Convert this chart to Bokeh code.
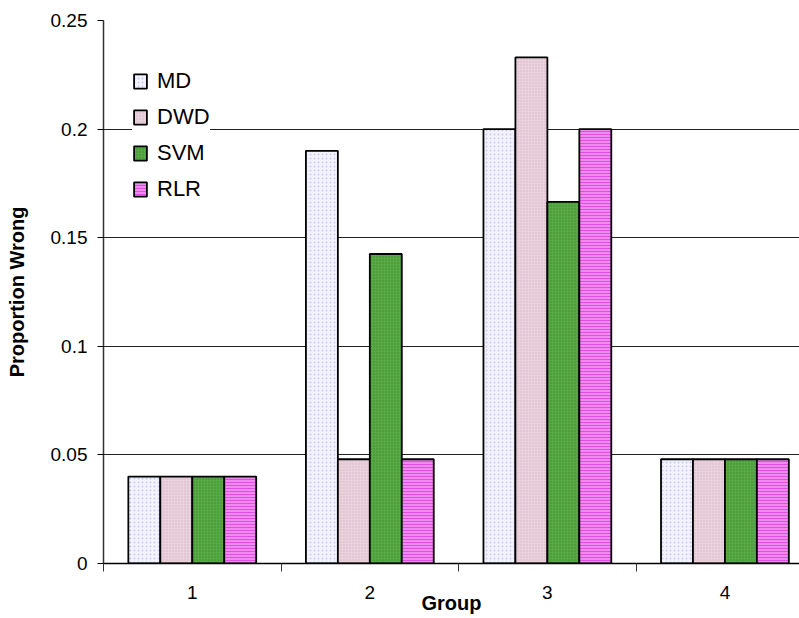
import numpy as np
from bokeh.plotting import figure
from bokeh.models import FixedTicker, ColumnDataSource, Legend, LegendItem
from bokeh.embed import file_html
from bokeh.resources import INLINE

groups = [1, 2, 3, 4]
group_labels = ["1", "2", "3", "4"]
methods = ["MD", "DWD", "SVM", "RLR"]
md = [0.04, 0.19, 0.2, 0.048]
dwd = [0.04, 0.048, 0.233, 0.048]
svm = [0.04, 0.1425, 0.1665, 0.048]
rlr = [0.04, 0.048, 0.2, 0.048]
y_ticks = [0, 0.05, 0.1, 0.15, 0.2, 0.25]

styles = {
    "MD": dict(fill_color="#F3F3FF", hatch_pattern="dot", hatch_color="#C8C8F0", hatch_scale=4),
    "DWD": dict(fill_color="#EAD2DC", hatch_pattern="dot", hatch_color="#D8B4C4", hatch_scale=3),
    "SVM": dict(fill_color="#57AA44", hatch_pattern="dot", hatch_color="#3E8A30", hatch_scale=3),
    "RLR": dict(fill_color="#F08AF0", hatch_pattern="horizontal_line", hatch_color="#E050E0", hatch_scale=3),
}

FONT = "Liberation Sans"

# right side of the plot area runs off the edge, like the original
p = figure(width=799, height=618, x_range=(0.5, 4.42), y_range=(0, 0.25),
           output_backend="svg", toolbar_location=None,
           min_border_left=103, min_border_top=20, min_border_right=0, min_border_bottom=55)
p.outline_line_color = None

bw = 0.18
series = [md, dwd, svm, rlr]
items = []
for i, (name, vals) in enumerate(zip(methods, series)):
    xs = np.array(groups) + (i - 1.5) * bw
    src = ColumnDataSource(dict(x=xs, top=vals))
    r = p.vbar(x="x", top="top", width=bw, source=src, line_color="black", line_width=1.8,
               **styles[name])
    items.append(LegendItem(label=name, renderers=[r]))

legend = Legend(items=items, location=(29, 361), border_line_color=None,
                background_fill_color="white", background_fill_alpha=1.0,
                label_text_font=FONT, label_text_font_size="22px", label_text_color="black",
                glyph_width=16, glyph_height=18, label_height=18, spacing=10,
                padding=9, label_standoff=9, margin=0)
p.add_layout(legend)

# x axis: labels at group centres, tick marks between groups
p.xaxis.ticker = FixedTicker(ticks=groups, minor_ticks=[0.5, 1.5, 2.5, 3.5, 4.5])
p.xaxis.major_label_overrides = {g: l for g, l in zip(groups, group_labels)}
p.xaxis.major_tick_out = 0
p.xaxis.major_tick_in = 0
p.xaxis.minor_tick_out = 8
p.xaxis.minor_tick_in = 0
p.xaxis.minor_tick_line_color = "#333333"
p.xaxis.major_label_standoff = 14
p.xaxis.major_label_text_font_size = "19px"
p.xaxis.axis_label = "Group"
p.xaxis.axis_label_standoff = -10
p.xaxis.axis_line_color = "black"
p.xaxis.axis_line_width = 1.5

# y axis
p.yaxis.ticker = FixedTicker(ticks=y_ticks)
p.yaxis.minor_tick_line_color = None
p.yaxis.major_tick_out = 6
p.yaxis.major_tick_in = 0
p.yaxis.major_label_standoff = 10
p.yaxis.major_label_text_font_size = "19px"
p.yaxis.axis_label = "Proportion Wrong"
p.yaxis.axis_label_standoff = 20
p.yaxis.axis_line_color = "#333333"
p.yaxis.axis_line_width = 1.5

for ax in (p.xaxis, p.yaxis):
    ax.major_label_text_font = FONT
    ax.major_label_text_color = "black"
    ax.axis_label_text_font = FONT
    ax.axis_label_text_font_size = "20px"
    ax.axis_label_text_font_style = "bold"
    ax.axis_label_text_color = "black"

p.xgrid.grid_line_color = None
p.ygrid.ticker = FixedTicker(ticks=y_ticks)
p.ygrid.grid_line_color = "#222222"
p.ygrid.grid_line_width = 1
p.ygrid.level = "underlay"

open("out.html", "w").write(file_html(p, INLINE))
